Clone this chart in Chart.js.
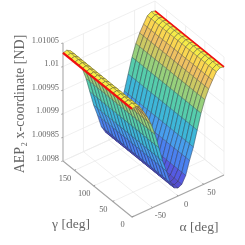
<!DOCTYPE html>
<html><head><meta charset="utf-8">
<style>html,body{margin:0;padding:0;background:#fff}canvas{display:block}</style>
<script src="https://cdn.jsdelivr.net/npm/chart.js@4"></script></head>
<body><canvas id="c" width="245" height="245"></canvas>
<script>
const alphaDeg=[-90,-82.5,-75,-67.5,-60,-52.5,-45,-37.5,-30,-22.5,-15,-7.5,0,7.5,15,22.5,30,37.5,45,52.5,60,67.5,75,82.5,90];
const gammaDeg=[0,10,20,30,40,50,60,70,80,90,100,110,120,130,140,150,160,170,180];
const zProfile=[1.010029,1.010031,1.010026,1.010012,1.009997,1.009978,1.009953,1.009921,1.009889,1.009864,1.009836,1.009821,1.009817,1.009821,1.009836,1.009864,1.009889,1.009921,1.009953,1.009978,1.009997,1.010012,1.010026,1.010031,1.010029];
const zTicks=[1.0098,1.00985,1.0099,1.00995,1.01,1.01005];
const zTickLabels=['1.0098','1.00985','1.0099','1.00995','1.01','1.01005'];
const alphaTicks=[-50,0,50];
const gammaTicks=[0,50,100,150];
const colorStops=[[0.05,85,70,195],[0.12,85,90,225],[0.22,75,130,240],[0.38,70,170,235],[0.52,55,195,200],[0.65,110,212,150],[0.78,190,205,100],[0.89,240,192,98],[0.95,250,215,80],[1,245,240,70]];

const A0=-90,A1=90,G0=0,G1=180,Z0=1.0098,Z1=1.01005;
function proj(a,g,z){
  const u=(a-A0)/(A1-A0),v=(g-G0)/(G1-G0),w=(z-Z0)/(Z1-Z0);
  return {x:132+92*u-69*v,y:217-42*u-56*v-118*w};
}
function colorOf(z){
  const t=(z-Z0)/(1.010031-Z0);
  let s=colorStops;
  if(t<=s[0][0])return `rgb(${s[0][1]},${s[0][2]},${s[0][3]})`;
  for(let i=1;i<s.length;i++){
    if(t<=s[i][0]){
      const f=(t-s[i-1][0])/(s[i][0]-s[i-1][0]);
      const c=[1,2,3].map(k=>Math.round(s[i-1][k]+f*(s[i][k]-s[i-1][k])));
      return `rgb(${c[0]},${c[1]},${c[2]})`;
    }
  }
  const l=s[s.length-1];return `rgb(${l[1]},${l[2]},${l[3]})`;
}
function line(pts,color,w){
  return {data:pts,showLine:true,fill:false,borderColor:color,borderWidth:w,pointRadius:0,tension:0,borderCapStyle:'butt'};
}
const back=[];   // drawn first
const GRID='#ebebeb',AX='#a6a6a6';
for(const zt of zTicks){
  back.push(line([proj(A0,G1,zt),proj(A1,G1,zt),proj(A1,G0,zt)],GRID,0.8));
}
back.push(line([proj(A1,G1,Z0),proj(A1,G1,Z1)],GRID,0.8));
for(const a of alphaTicks){
  back.push(line([proj(a,G0,Z0),proj(a,G1,Z0),proj(a,G1,Z1)],GRID,0.8));
}
for(const g of gammaTicks){
  if(g===G0)continue;
  back.push(line([proj(A0,g,Z0),proj(A1,g,Z0),proj(A1,g,Z1)],GRID,0.8));
}
back.push(line([proj(A1,G0,Z0),proj(A1,G1,Z0),proj(A0,G1,Z0)],GRID,0.8));
back.push(line([proj(A1,G0,Z0),proj(A1,G0,Z1)],GRID,0.8));
// axes
back.push(line([proj(A0,G1,Z0),proj(A0,G1,Z1)],'#c4c4c4',1.6));
back.push(line([proj(A0,G1,Z0),proj(A0,G0,Z0),proj(A1,G0,Z0)],AX,1.1));
for(const zt of zTicks){const p=proj(A0,G1,zt);back.push(line([p,{x:p.x-1.8,y:p.y+0.5}],'#9a9a9a',0.8));}
for(const g of gammaTicks){const p=proj(A0,g,Z0);back.push(line([p,{x:p.x+1.5,y:p.y-0.8}],'#8a8a8a',0.8));}
for(const a of alphaTicks){const p=proj(a,G0,Z0);back.push(line([p,{x:p.x-1,y:p.y-1.3}],'#8a8a8a',0.8));}

const surf=[];
const MESH_G='rgba(40,40,55,0.66)',MESH_A='rgba(40,40,55,0.5)';
// far to near
for(let j=gammaDeg.length-2;j>=0;j--){
  for(let i=alphaDeg.length-2;i>=0;i--){
    const zm=(zProfile[i]+zProfile[i+1])/2;
    const p00=proj(alphaDeg[i],gammaDeg[j],zProfile[i]),p10=proj(alphaDeg[i+1],gammaDeg[j],zProfile[i+1]),
          p11=proj(alphaDeg[i+1],gammaDeg[j+1],zProfile[i+1]),p01=proj(alphaDeg[i],gammaDeg[j+1],zProfile[i]);
    const col=colorOf(zm);
    surf.push({data:[p00,p10,p11,p01,p00],showLine:true,fill:'shape',backgroundColor:col,borderColor:col,borderWidth:0.3,pointRadius:0,tension:0});
    surf.push(line([p00,p10],MESH_G,0.62));
    surf.push(line([p01,p11],MESH_G,0.62));
    surf.push(line([p00,p01],MESH_A,0.58));
    surf.push(line([p10,p11],MESH_A,0.58));
  }
}
const redLines=[
  line([proj(A1,G0,zProfile[24]),proj(A1,G1,zProfile[24])],'#f01010',1.7),
  line([proj(A0,G0,zProfile[0]),proj(A0,G1,zProfile[0])],'#f01010',2.3)
];
const ordered=[...back,...surf,...redLines];
ordered.reverse();   // Chart.js paints the first dataset on top

const SERIF='"Liberation Serif",serif',TXT='#666666';
const labels={id:'labels',afterDraw(ch){
  const c=ch.ctx,xs=ch.scales.x,ys=ch.scales.y;
  c.save();c.fillStyle=TXT;
  c.font='8.4px '+SERIF;c.textAlign='right';c.textBaseline='middle';
  zTicks.forEach((z,i)=>{const p=proj(A0,G1,z);c.fillText(zTickLabels[i],xs.getPixelForValue(p.x)-4,ys.getPixelForValue(p.y)-2.5);});
  c.textAlign='center';
  gammaTicks.forEach(g=>{const p=proj(A0,g,Z0);c.fillText(String(g),xs.getPixelForValue(p.x)-9.5,ys.getPixelForValue(p.y)+8);});
  alphaTicks.forEach(a=>{const p=proj(a,G0,Z0);c.fillText(String(a),xs.getPixelForValue(p.x)+8,ys.getPixelForValue(p.y)+8.5);});
  c.font='13.5px '+SERIF;c.textAlign='center';
  c.fillText('γ [deg]',71,224.5);
  c.fillText('α [deg]',199,227);
  c.translate(20,104);c.rotate(-Math.PI/2);
  c.font='14px '+SERIF;
  c.fillText('AEP₂ x-coordinate [ND]',0,0);
  c.restore();
}};
new Chart(document.getElementById('c'),{
  type:'scatter',
  data:{datasets:ordered},
  plugins:[labels],
  options:{responsive:false,animation:false,events:[],
    layout:{padding:0},
    plugins:{legend:{display:false},tooltip:{enabled:false},title:{display:false}},
    scales:{x:{type:'linear',min:0,max:245,display:false},y:{type:'linear',min:0,max:245,reverse:true,display:false}},
    datasets:{scatter:{clip:false}}
  }
});
</script></body></html>
